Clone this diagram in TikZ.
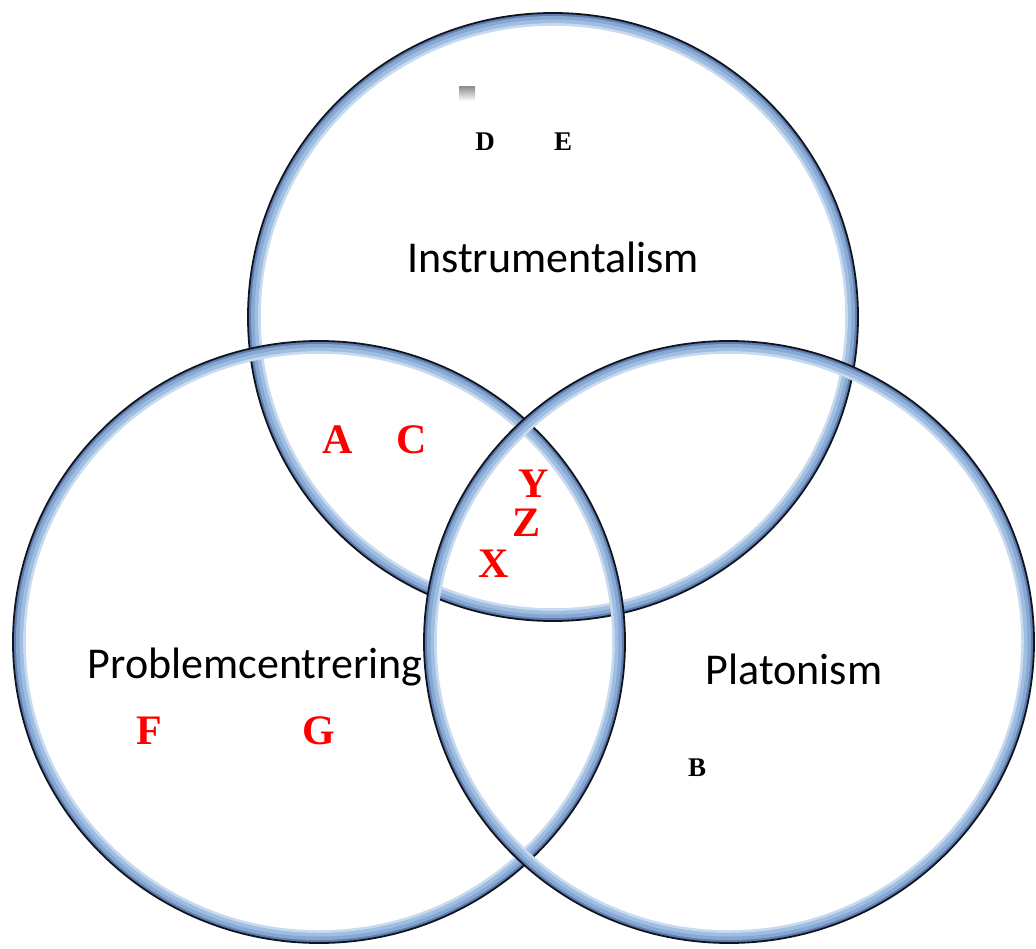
\documentclass[tikz,border=0pt]{standalone}
\usepackage{fontspec}
\setmainfont{Liberation Serif}
\newfontfamily\carlitofont{Carlito}
\definecolor{bandA}{RGB}{95,125,175}
\definecolor{bandB}{RGB}{135,168,210}
\definecolor{bandC}{RGB}{160,190,226}
\definecolor{bandD}{RGB}{200,218,240}
\definecolor{edge}{RGB}{15,20,30}
\definecolor{lred}{RGB}{255,0,0}
\tikzset{
  biglabel/.style={font=\carlitofont\fontsize{44}{50}\selectfont, anchor=base, inner sep=0pt},
  redletter/.style={font=\bfseries\fontsize{42}{46}\selectfont, text=lred, anchor=base, inner sep=0pt},
  blackletter/.style={font=\bfseries\fontsize{27}{30}\selectfont, text=black, anchor=base, inner sep=0pt}
}
% #1,#2 centre; #3 x radius; #4 y radius
\newcommand{\glossring}[4]{%
  \draw[bandA, line width=3] (#1,#2) ellipse[x radius=#3-3, y radius=#4-3];
  \draw[bandB, line width=4] (#1,#2) ellipse[x radius=#3-6, y radius=#4-6];
  \draw[bandC, line width=4] (#1,#2) ellipse[x radius=#3-9.5, y radius=#4-9.5];
  \draw[bandD, line width=2.5] (#1,#2) ellipse[x radius=#3-12.5, y radius=#4-12.5];
  \draw[edge, line width=1.8] (#1,#2) ellipse[x radius=#3-1, y radius=#4-1];
}
\begin{document}
\begin{tikzpicture}[x=1pt,y=-1pt]
\useasboundingbox[fill=white] (0,0) rectangle (1036,949);
% circles
\glossring{553}{317}{306}{305}
\glossring{319}{642}{307}{302}
\glossring{729}{642}{306}{302}
% small gray mark
\shade[top color=gray!85, bottom color=white] (459,87) rectangle (475,101);
% labels
\node[biglabel] (instr) at (553,273) {Instrumentalism};
\node[biglabel] (probl) at (255,678) {Problemcentrering};
\node[biglabel] (plat) at (794,684) {Platonism};
% red letters
\node[redletter] (A) at (338,453) {A};
\node[redletter] (C) at (412,453) {C};
\node[redletter] (Y) at (534,497) {Y};
\node[redletter] (Z) at (527,536) {Z};
\node[redletter] (X) at (494,577) {X};
\node[redletter] (F) at (149,744) {F};
\node[redletter] (G) at (319,744) {G};
% black letters
\node[blackletter] (D) at (485,151) {D};
\node[blackletter] (E) at (563,151) {E};
\node[blackletter] (B) at (697,776) {B};
\end{tikzpicture}
\end{document}
